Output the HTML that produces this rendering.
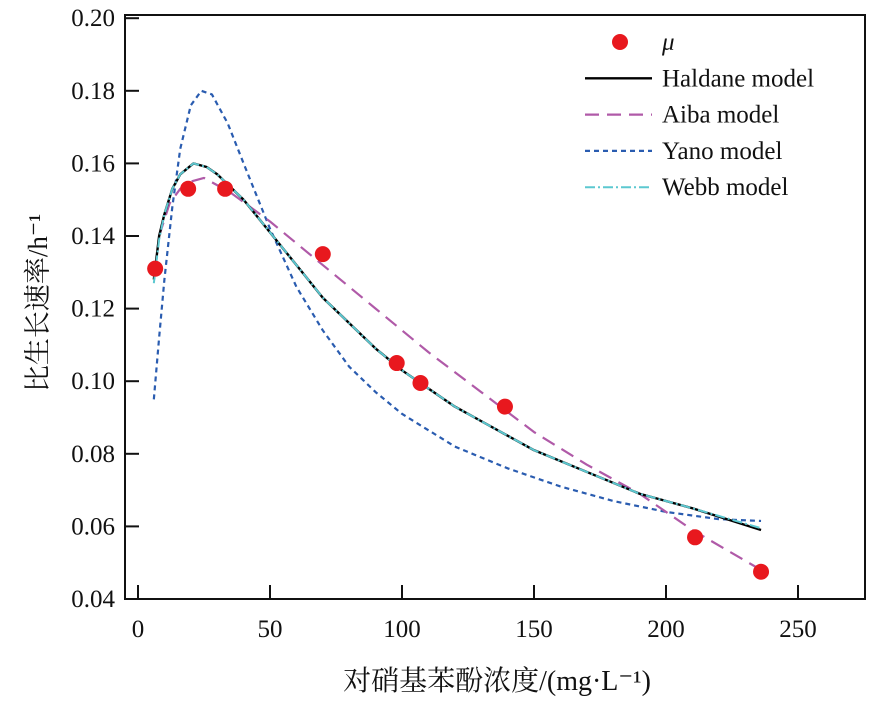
<!DOCTYPE html>
<html><head><meta charset="utf-8"><style>
body{margin:0;background:#fff}
svg text{font-family:"Liberation Serif","Noto Serif CJK SC",serif;fill:#111}
</style></head><body>
<svg id="chart" width="885" height="700" xmlns="http://www.w3.org/2000/svg"></svg>
<script>
const xTicks=[0,50,100,150,200,250];
const yTicks=[0.04,0.06,0.08,0.10,0.12,0.14,0.16,0.18,0.20];
const muX=[6.5,19,33,70,98,107,139,211,236];
const muY=[0.131,0.153,0.153,0.135,0.105,0.0995,0.093,0.057,0.0475];
const haldaneX=[6,8,10,13,16,21,26,30,40,50,60,70,80,90,100,110,120,130,140,150,170,190,210,236];
const haldaneY=[0.128,0.140,0.146,0.153,0.157,0.160,0.159,0.157,0.150,0.141,0.132,0.123,0.116,0.109,0.103,0.098,0.093,0.089,0.085,0.081,0.075,0.069,0.065,0.059];
const webbY=[0.127,0.139,0.146,0.153,0.157,0.160,0.159,0.157,0.150,0.141,0.132,0.123,0.116,0.109,0.103,0.098,0.093,0.089,0.085,0.081,0.075,0.069,0.065,0.0595];
const aibaX=[8,12,16,20,25,35,50,70,90,110,130,150,170,190,210,236];
const aibaY=[0.140,0.149,0.153,0.155,0.156,0.152,0.144,0.132,0.120,0.108,0.097,0.086,0.077,0.069,0.059,0.048];
const yanoX=[6,8,10,13,16,20,24,28,34,40,50,60,70,80,90,100,120,140,160,180,200,220,236];
const yanoY=[0.095,0.112,0.128,0.148,0.164,0.176,0.180,0.179,0.171,0.160,0.142,0.126,0.114,0.104,0.097,0.091,0.082,0.076,0.071,0.067,0.064,0.062,0.0615];

const svg=document.getElementById('chart');
const NS='http://www.w3.org/2000/svg';
const X0=125,X1=865,Y0=15,Y1=599;
const sx=v=>138+v*132/50;
const sy=v=>599-(v-0.04)/0.02*72.6;
function mk(t,a,p){const e=document.createElementNS(NS,t);for(const k in a)e.setAttribute(k,a[k]);(p||svg).appendChild(e);return e;}

const frame=mk('rect',{x:X0,y:Y0,width:X1-X0,height:Y1-Y0,fill:'none',stroke:'#111','stroke-width':2});



xTicks.forEach(v=>{
  const l=mk('line',{x1:sx(v),x2:sx(v),y1:Y1,y2:Y1-14,stroke:'#111','stroke-width':2});
  
  
  const t=mk('text',{x:sx(v),y:Y1+38,'text-anchor':'middle','font-size':25});
  t.textContent=v;
  
  
});
yTicks.forEach(v=>{
  const l=mk('line',{x1:X0,x2:X0+14,y1:sy(v),y2:sy(v),stroke:'#111','stroke-width':2});
  
  
  const t=mk('text',{x:X0-10,y:sy(v)+8,'text-anchor':'end','font-size':25});
  t.textContent=v.toFixed(2);
  
  
});

function line(xs,ys,st,name){
  const p=mk('polyline',Object.assign({points:xs.map((x,i)=>sx(x)+','+sy(ys[i])).join(' '),fill:'none','stroke-linejoin':'round'},st));
  
  
}
line(yanoX,yanoY,{stroke:'#2a5cb0','stroke-width':2.2,'stroke-dasharray':'5,4'},'yano-line');
line(aibaX,aibaY,{stroke:'#b05aa8','stroke-width':2.2,'stroke-dasharray':'14,8'},'aiba-line');
line(haldaneX,haldaneY,{stroke:'#000','stroke-width':2.4},'haldane-line');
line(haldaneX,webbY,{stroke:'#5cc8d0','stroke-width':2,'stroke-dasharray':'10,3,2,3'},'webb-line');
muX.forEach((x,i)=>{
  const c=mk('circle',{cx:sx(x),cy:sy(muY[i]),r:8,fill:'#e8181e'});
  
  
});

const leg=[['μ',null],['Haldane model',{stroke:'#000','stroke-width':2.4}],['Aiba model',{stroke:'#b05aa8','stroke-width':2.2,'stroke-dasharray':'14,8'}],['Yano model',{stroke:'#2a5cb0','stroke-width':2.2,'stroke-dasharray':'5,4'}],['Webb model',{stroke:'#5cc8d0','stroke-width':2,'stroke-dasharray':'10,3,2,3'}]];
leg.forEach((d,i)=>{
  const y=42+i*36.3;
  const g=mk('g',{});
  
  
  if(d[1]) mk('line',Object.assign({x1:585,x2:652,y1:y,y2:y},d[1]),g);
  else mk('circle',{cx:620,cy:y,r:8,fill:'#e8181e'},g);
  const t=mk('text',Object.assign({x:662,y:y+8,'font-size':25},i==0?{'font-style':'italic'}:{}),g);
  t.textContent=d[0];
});

const xt=mk('text',{x:497,y:690,'text-anchor':'middle','font-size':28});
xt.textContent='对硝基苯酚浓度/(mg·L⁻¹)';


const yt=mk('text',{x:0,y:0,'text-anchor':'middle','font-size':27,transform:'translate(47,303) rotate(-90)'});
yt.textContent='比生长速率/h⁻¹';


</script>
</body></html>
